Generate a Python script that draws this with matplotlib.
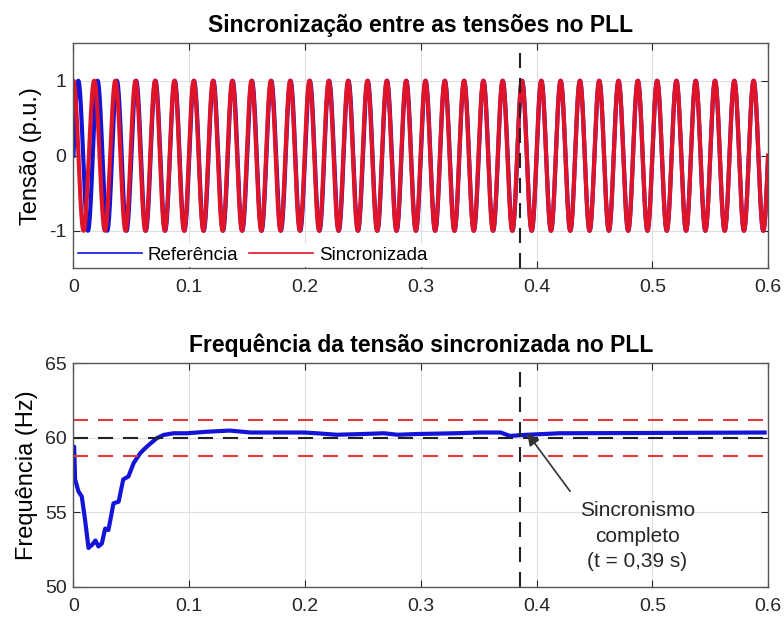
import numpy as np
import matplotlib.pyplot as plt

plt.rcParams['font.family'] = ['Liberation Sans', 'DejaVu Sans']
plt.rcParams['axes.unicode_minus'] = False

# PLL frequency (s, Hz)
t_f = [0.0, 0.0006, 0.0014, 0.0043, 0.0072, 0.010, 0.013, 0.016, 0.019,
       0.0216, 0.0245, 0.0274, 0.0302, 0.0346, 0.039, 0.043, 0.0475, 0.052,
       0.0576, 0.062, 0.0663, 0.072, 0.078, 0.0864, 0.098, 0.115, 0.135,
       0.153, 0.199, 0.21, 0.2276, 0.25, 0.268, 0.28, 0.297, 0.33, 0.351,
       0.369, 0.377, 0.392, 0.42, 0.5, 0.597]
f_pll = [59.4, 59.4, 57.2, 56.4, 56.05, 54.5, 52.6, 52.8, 53.1,
         52.7, 52.9, 53.9, 53.8, 55.6, 55.7, 57.2, 57.4, 58.3,
         58.96, 59.3, 59.6, 59.97, 60.19, 60.3, 60.3, 60.4, 60.48,
         60.35, 60.35, 60.3, 60.2, 60.25, 60.3, 60.2, 60.25, 60.3, 60.35,
         60.35, 60.12, 60.2, 60.3, 60.32, 60.35]

f_nom = 60.0
f_band = [58.8, 61.2]
t_sync = 0.386

# waveforms: reference at nominal frequency; PLL output starts 90 deg ahead
# and its phase error is worked off by the frequency dip
t = np.linspace(0, 0.6, 12001)
ref = np.sin(2 * np.pi * f_nom * t)
f_t = np.interp(t, t_f, f_pll)
dphi = np.concatenate([[0], np.cumsum((f_t[1:] + f_t[:-1]) / 2 * np.diff(t))])
dphi -= f_pll[-1] * t
err = 1 - dphi / dphi[-1]
sync = np.sin(2 * np.pi * f_nom * t + np.pi / 2 * err)

fig = plt.figure(figsize=(7.84, 6.18), dpi=100)
ax1 = fig.add_axes([0.0937, 0.566, 0.886, 0.364])
ax2 = fig.add_axes([0.0937, 0.0507, 0.886, 0.3615])

dash = (0, (7.2, 4.8))
for ax in (ax1, ax2):
    ax.grid(True, color='#e0e0e0', lw=0.8)
    ax.set_axisbelow(True)
    ax.tick_params(direction='in', top=True, right=True, labelsize=14,
                   colors='#262626', length=5)
    ax.tick_params(axis='x', pad=8)
    ax.tick_params(axis='y', pad=5)
    for s in ax.spines.values():
        s.set_color('#555555')
        s.set_linewidth(1.0)
    ax.set_xlim(0, 0.6)
    ax.set_xticks([0, 0.1, 0.2, 0.3, 0.4, 0.5, 0.6])
    ax.set_xticklabels(['0', '0.1', '0.2', '0.3', '0.4', '0.5', '0.6'])

ax1.plot(t, ref, color='#1414d8', lw=3, label='Referência')
ax1.plot(t, sync, color='#e01428', lw=3, label='Sincronizada')
ax1.axvline(t_sync, color='#222222', lw=1.5, ls=dash)
ax1.set_ylim(-1.5, 1.5)
ax1.set_yticks([-1, 0, 1])
ax1.set_ylabel('Tensão (p.u.)', fontsize=17, labelpad=5)
ax1.set_title('Sincronização entre as tensões no PLL', fontsize=16.5,
              fontweight='bold', pad=8)
leg = ax1.legend(loc='lower left', ncol=2, fontsize=13.5, frameon=True,
                 fancybox=False, edgecolor='white', framealpha=1,
                 borderaxespad=0.1, handlelength=3.4, columnspacing=0.6,
                 handletextpad=0.3, borderpad=0.15)
for h in leg.get_lines():
    h.set_linewidth(1.2)

ax2.plot(t_f, f_pll, color='#1414d8', lw=3)
ax2.axhline(f_band[1], color='#e03c3c', lw=1.5, ls=dash)
ax2.axhline(f_band[0], color='#e03c3c', lw=1.5, ls=dash)
ax2.axhline(f_nom, color='#222222', lw=1.5, ls=dash)
ax2.axvline(t_sync, color='#222222', lw=1.5, ls=dash)
ax2.set_ylim(50, 65)
ax2.set_yticks([50, 55, 60, 65])
ax2.set_ylabel('Frequência (Hz)', fontsize=17, labelpad=5)
ax2.set_title('Frequência da tensão sincronizada no PLL', fontsize=16.5,
              fontweight='bold', pad=8)
ax2.annotate('', xy=(0.392, 60.3), xytext=(0.429, 56.4),
             arrowprops=dict(arrowstyle='-|>', color='#333333', lw=1.2,
                             shrinkA=0, shrinkB=0, mutation_scale=18))
ax2.text(0.487, 53.4, 'Sincronismo\ncompleto\n(t = 0,39 s)', ha='center',
         va='center', fontsize=15, linespacing=1.45, color='#262626')

fig.savefig('out.png', dpi=100)
